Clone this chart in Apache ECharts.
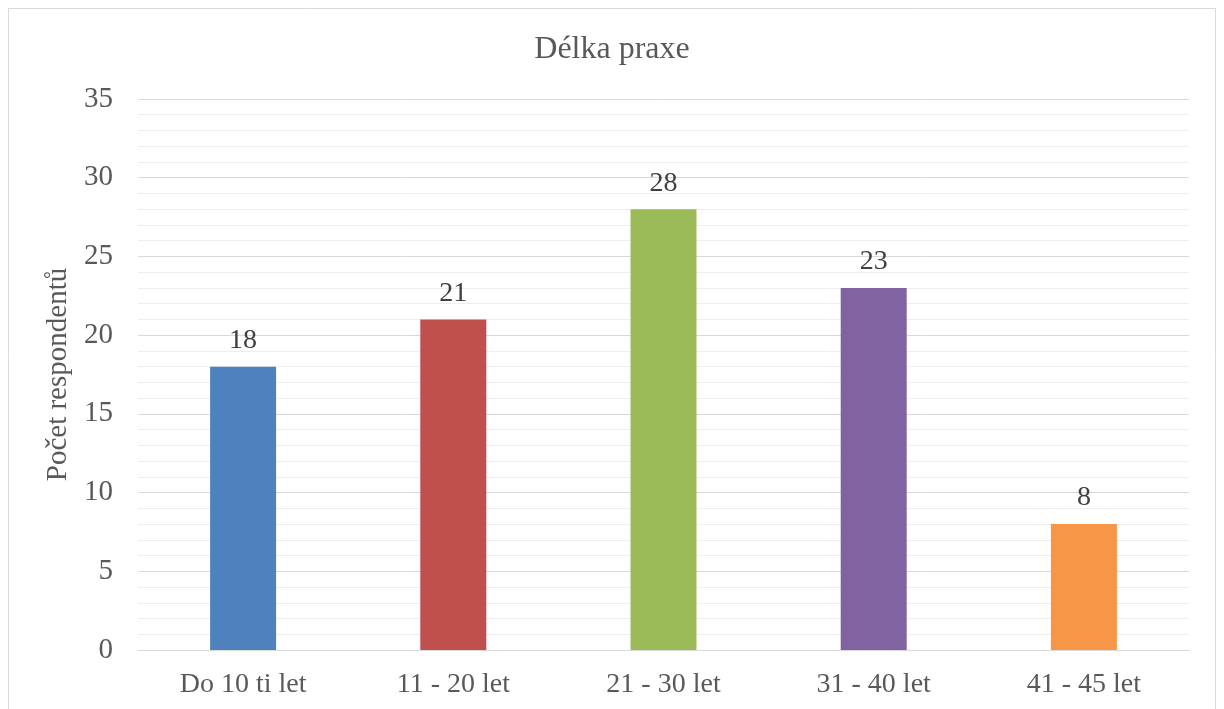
<!DOCTYPE html>
<html>
<head>
<meta charset="utf-8">
<script src="https://cdn.jsdelivr.net/npm/echarts@6/dist/echarts.min.js"></script>
<style>
  html, body { margin: 0; padding: 0; background: #fff; }
  #chart { width: 1224px; height: 709px; }
</style>
</head>
<body>
<div id="chart"></div>
<script>
const categories = ['Do 10 ti let', '11 - 20 let', '21 - 30 let', '31 - 40 let', '41 - 45 let']
const counts = [18, 21, 28, 23, 8]
const barColors = ['#4F81BD', '#C0504D', '#9BBB59', '#8064A2', '#F79646']

const font = 'Liberation Serif, Times New Roman, serif'
const textColor = '#595959'

const chart = echarts.init(document.getElementById('chart'))
chart.setOption({
  backgroundColor: '#fff',
  animation: false,
  graphic: [{
    type: 'rect',
    shape: { x: 8.5, y: 8.5, width: 1207, height: 720 },
    style: { fill: 'none', stroke: '#d9d9d9', lineWidth: 1 }
  }],
  title: {
    text: 'Délka praxe',
    left: 'center',
    top: 29,
    textStyle: { fontFamily: font, fontSize: 32, fontWeight: 'normal', color: textColor }
  },
  grid: { left: 138, right: 35, top: 99, bottom: 59 },
  xAxis: {
    type: 'category',
    data: categories,
    axisTick: { show: false },
    axisLine: { lineStyle: { color: '#d9d9d9', width: 1 } },
    axisLabel: { fontFamily: font, fontSize: 28, color: textColor, margin: 21 }
  },
  yAxis: {
    type: 'value',
    min: 0,
    max: 35,
    interval: 5,
    name: 'Počet respondentů',
    nameLocation: 'middle',
    nameGap: 58,
    nameTextStyle: { fontFamily: font, fontSize: 29, color: textColor },
    axisLine: { show: false },
    axisTick: { show: false },
    axisLabel: { fontFamily: font, fontSize: 29, color: textColor, margin: 25 },
    splitLine: { lineStyle: { color: '#d9d9d9', width: 1 } },
    minorTick: { show: false, splitNumber: 5 },
    minorSplitLine: { show: true, lineStyle: { color: '#eeeeee', width: 1 } }
  },
  series: [{
    type: 'bar',
    data: counts.map((v, i) => ({ value: v, itemStyle: { color: barColors[i] } })),
    barWidth: 66,
    label: {
      show: true,
      position: 'top',
      distance: 12,
      fontFamily: font,
      fontSize: 28,
      color: '#404040'
    }
  }]
})
</script>
</body>
</html>
